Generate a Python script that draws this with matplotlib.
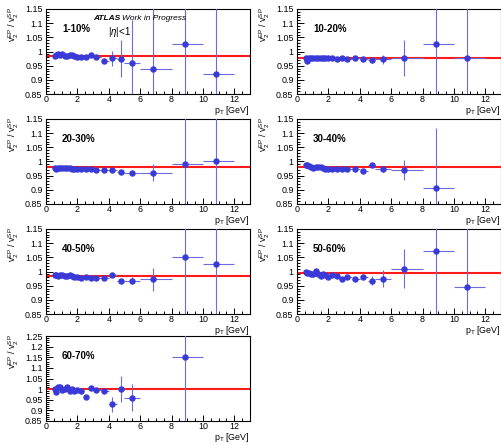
import numpy as np
import matplotlib
matplotlib.use("Agg")
import matplotlib.pyplot as plt
from matplotlib.ticker import MultipleLocator, FuncFormatter

plt.rcParams['font.family'] = ['Liberation Sans', 'DejaVu Sans']
plt.rcParams['mathtext.fontset'] = 'custom'
plt.rcParams['mathtext.rm'] = 'Liberation Sans'
plt.rcParams['mathtext.it'] = 'Liberation Sans:italic'
plt.rcParams['mathtext.bf'] = 'Liberation Sans:bold'

nan = np.nan

# pT bins: mean, lower edge, upper edge
pt = [0.55, 0.65, 0.75, 0.9, 1.05, 1.2, 1.35, 1.5, 1.65, 1.8, 1.95, 2.25, 2.55, 2.85,
      3.2, 3.7, 4.2, 4.75, 5.45, 6.8, 8.85, 10.85]
pt_lo = [0.5, 0.6, 0.7, 0.8, 1.0, 1.1, 1.3, 1.4, 1.6, 1.7, 1.9, 2.0, 2.4, 2.7,
         3.0, 3.5, 4.0, 4.5, 5.0, 6.0, 8.0, 10.0]
pt_hi = [0.6, 0.7, 0.8, 1.0, 1.1, 1.3, 1.4, 1.6, 1.7, 1.9, 2.0, 2.4, 2.7, 3.0,
         3.5, 4.0, 4.5, 5.0, 6.0, 8.0, 10.0, 12.0]

labels = ["1-10%", "10-20%", "20-30%", "30-40%", "40-50%", "50-60%", "60-70%"]

r_1_10 = [0.983, 0.988, 0.990, 0.988, 0.990, 0.985, 0.983, 0.988, 0.987, 0.985, 0.982, 0.980,
          0.982, 0.988, 0.979, 0.968, 0.976, 0.975, 0.960, 0.940, 1.027, 0.922]
e_1_10 = [0.003, 0.003, 0.003, 0.003, 0.003, 0.003, 0.003, 0.003, 0.003, 0.003, 0.003, 0.003,
          0.004, 0.004, 0.005, 0.008, 0.026, 0.066, 0.150, 0.300, 0.400, 0.400]

r_10_20 = [0.978, 0.968, 0.978, 0.977, 0.978, 0.977, 0.976, 0.978, 0.978, 0.976, 0.977, 0.976,
           0.972, 0.977, 0.973, 0.978, 0.975, 0.969, 0.972, 0.977, 1.027, 0.976]
e_10_20 = [0.003, 0.003, 0.003, 0.003, 0.003, 0.003, 0.003, 0.003, 0.003, 0.003, 0.003, 0.003,
           0.003, 0.003, 0.003, 0.004, 0.005, 0.008, 0.017, 0.062, 0.300, 0.300]

r_20_30 = [0.977, 0.975, 0.977, 0.978, 0.977, 0.976, 0.976, 0.976, 0.975, 0.975, 0.975, 0.975,
           0.974, 0.973, 0.971, 0.969, 0.969, 0.964, 0.960, 0.961, 0.990, 1.002]
e_20_30 = [0.003, 0.003, 0.003, 0.003, 0.003, 0.003, 0.003, 0.003, 0.003, 0.003, 0.003, 0.003,
           0.003, 0.003, 0.003, 0.003, 0.004, 0.005, 0.008, 0.029, 0.300, 0.300]

r_30_40 = [0.986, 0.989, 0.985, 0.981, 0.978, 0.980, 0.980, 0.979, 0.977, 0.975, 0.975, 0.975,
           0.973, 0.973, 0.974, 0.975, 0.967, 0.987, 0.972, 0.970, 0.907, nan]
e_30_40 = [0.003, 0.003, 0.003, 0.003, 0.003, 0.003, 0.003, 0.003, 0.003, 0.003, 0.003, 0.003,
           0.003, 0.003, 0.003, 0.003, 0.004, 0.005, 0.010, 0.034, 0.210, nan]

r_40_50 = [0.987, 0.986, 0.985, 0.986, 0.987, 0.983, 0.985, 0.986, 0.984, 0.982, 0.981, 0.978,
           0.980, 0.976, 0.976, 0.977, 0.987, 0.967, 0.968, 0.973, 1.052, 1.025]
e_40_50 = [0.003, 0.003, 0.003, 0.003, 0.003, 0.003, 0.003, 0.003, 0.003, 0.003, 0.003, 0.003,
           0.003, 0.003, 0.003, 0.003, 0.004, 0.008, 0.012, 0.041, 0.300, 0.300]

r_50_60 = [1.000, 0.993, 0.993, 0.990, 0.992, 1.002, 0.990, 0.985, 0.990, 0.987, 0.982, 0.988,
           0.985, 0.975, 0.980, 0.974, 0.980, 0.968, 0.975, 1.010, 1.072, 0.944]
e_50_60 = [0.004, 0.004, 0.004, 0.004, 0.004, 0.004, 0.004, 0.004, 0.004, 0.004, 0.004, 0.004,
           0.004, 0.004, 0.004, 0.005, 0.008, 0.016, 0.030, 0.068, 0.300, 0.300]

r_60_70 = [1.002, 0.988, 1.008, 1.010, 0.995, 1.000, 1.008, 0.990, 1.002, 0.992, 0.995, 0.993,
           0.964, 1.005, 0.995, 0.993, 0.929, 1.000, 0.960, nan, 1.152, nan]
e_60_70 = [0.005, 0.005, 0.005, 0.005, 0.005, 0.005, 0.005, 0.005, 0.005, 0.005, 0.005, 0.005,
           0.005, 0.006, 0.006, 0.012, 0.036, 0.060, 0.064, nan, 0.500, nan]

fit_const = [0.984, 0.976, 0.979, 0.981, 0.985, 0.993, 0.999]

ratios = [r_1_10, r_10_20, r_20_30, r_30_40, r_40_50, r_50_60, r_60_70]
errors = [e_1_10, e_10_20, e_20_30, e_30_40, e_40_50, e_50_60, e_60_70]
ymax = [1.15, 1.15, 1.15, 1.15, 1.15, 1.15, 1.25]

W, H = 502, 445
fig = plt.figure(figsize=(W / 100, H / 100), dpi=100)

col_left = [46, 297]
row_top = [9, 119, 229, 336]
row_bot = [94, 204, 314, 421]
pw = 204

mcol = '#3a3ad8'
ecol = '#6b6bdc'

fmt = FuncFormatter(lambda v, p: f"{v:g}")

pt_a = np.array(pt)
xerr = np.vstack([pt_a - np.array(pt_lo), np.array(pt_hi) - pt_a])

for i in range(7):
    r, c = divmod(i, 2)
    x0 = col_left[c]
    ax = fig.add_axes([x0 / W, 1 - row_bot[r] / H, pw / W, (row_bot[r] - row_top[r]) / H])
    ax.set_xlim(0, 13)
    ax.set_ylim(0.85, ymax[i])
    ax.axhline(fit_const[i], color='#ff1a1a', lw=1.5, zorder=2)
    y = np.array(ratios[i], dtype=float)
    e = np.array(errors[i], dtype=float)
    ok = ~np.isnan(y)
    ax.errorbar(pt_a[ok], y[ok], yerr=e[ok], xerr=xerr[:, ok], fmt='none',
                ecolor=ecol, elinewidth=0.8, capsize=0, zorder=3)
    ax.plot(pt_a[ok], y[ok], 'o', color=mcol, ms=3.6, mec=mcol, zorder=4)

    ax.xaxis.set_major_locator(MultipleLocator(2))
    ax.xaxis.set_minor_locator(MultipleLocator(0.5))
    ax.yaxis.set_major_locator(MultipleLocator(0.05))
    ax.yaxis.set_minor_locator(MultipleLocator(0.01))
    ax.yaxis.set_major_formatter(fmt)
    ax.tick_params(which='both', direction='in', top=False, right=False,
                   labelsize=6.4, width=0.7)
    ax.tick_params(axis='x', which='major', length=4, pad=1)
    ax.tick_params(axis='x', which='minor', length=2)
    ax.tick_params(axis='y', which='major', length=5, pad=2.5)
    ax.tick_params(axis='y', which='minor', length=2.5)
    for s in ax.spines.values():
        s.set_linewidth(0.8)

    ax.text(0.078, 0.77, labels[i], transform=ax.transAxes, fontsize=7,
            fontweight='bold', va='center', ha='left')
    ax.text(1.0, -0.118, r'$\mathrm{p}_{\mathrm{T}}$ [GeV]', transform=ax.transAxes,
            fontsize=6.4, ha='right', va='top')
    ax.text(-0.155, 1.02, r'$\mathrm{v}_{2}^{\mathrm{EP}}$ / $\mathrm{v}_{2}^{\mathrm{SP}}$',
            transform=ax.transAxes, fontsize=6.4, rotation=90, ha='center', va='top')

    if i == 0:
        ax.text(0.23, 0.893, 'ATLAS', transform=ax.transAxes, fontsize=6,
                fontweight='bold', fontstyle='italic', va='center', ha='left')
        ax.text(0.375, 0.893, 'Work in Progress', transform=ax.transAxes, fontsize=6,
                fontstyle='italic', va='center', ha='left')
        ax.text(0.304, 0.73, r'|$\eta$|<1', transform=ax.transAxes, fontsize=7,
                va='center', ha='left')

fig.savefig('out.png', dpi=100)
